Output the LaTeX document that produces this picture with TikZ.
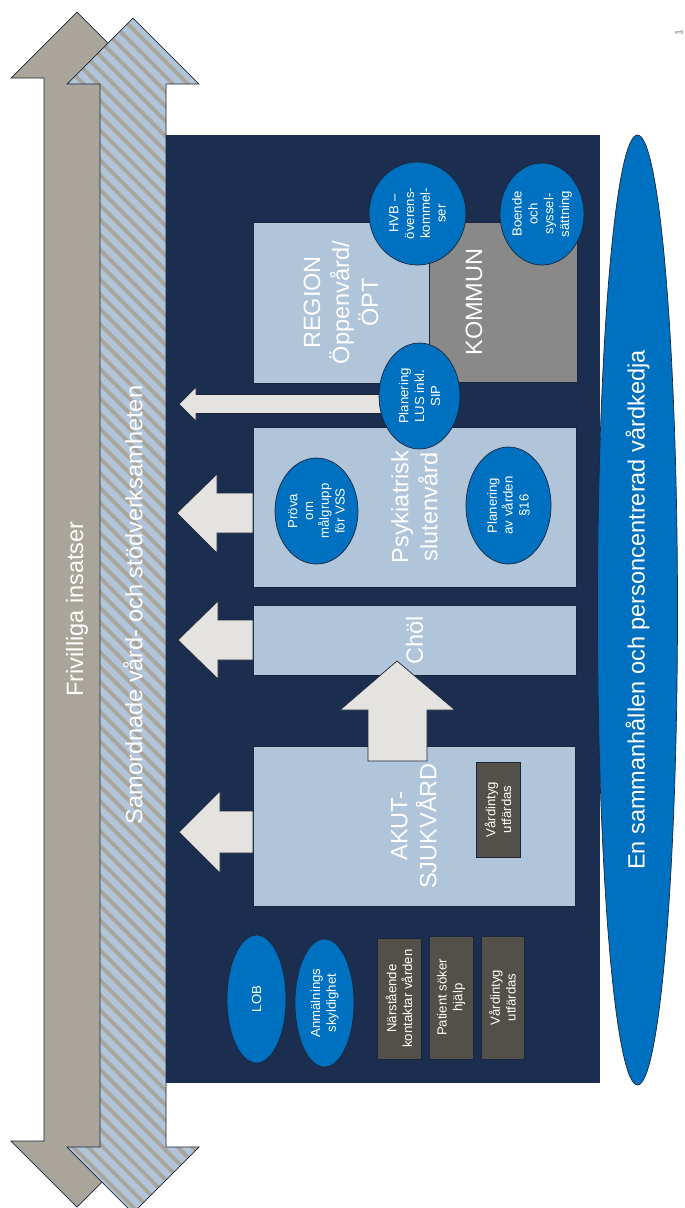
\documentclass[tikz,border=0pt]{standalone}
\usepackage{fontspec}
\setmainfont{Liberation Sans}
\usetikzlibrary{shapes.geometric,patterns.meta}

\definecolor{marin}{RGB}{27,46,79}
\definecolor{ljusbla}{RGB}{176,196,218}
\definecolor{bla}{RGB}{0,112,192}
\definecolor{beige}{RGB}{170,165,155}
\definecolor{gra}{RGB}{136,137,136}
\definecolor{morkgra}{RGB}{83,80,74}
\definecolor{pilgra}{RGB}{228,227,224}
\definecolor{kant}{RGB}{28,38,58}

\tikzset{
  storfont/.style={text=white,font=\fontsize{13.4}{16.5}\selectfont,align=center,inner sep=0pt},
  litenfont/.style={text=white,font=\fontsize{7.5}{9}\selectfont,align=center,inner sep=0pt},
  stor/.style={storfont,rotate=90},
  liten/.style={litenfont,rotate=90},
  ruta/.style 2 args={rectangle,draw=kant,thin,rotate=90,minimum width=#2*0.02cm,minimum height=#1*0.02cm,inner sep=0pt,outer sep=0pt},
  ljusruta/.style 2 args={ruta={#1}{#2},fill=ljusbla,storfont},
  morkruta/.style 2 args={ruta={#1}{#2},fill=morkgra,litenfont},
  cirkel/.style 2 args={ellipse,draw=kant,thin,fill=bla,rotate=90,minimum width=#2*0.02cm,minimum height=#1*0.02cm,inner sep=0pt},
  pil/.style={fill=pilgra,draw=kant,thin},
}

\begin{document}
\begin{tikzpicture}[x=0.02cm,y=-0.02cm]
	\useasboundingbox (0,0) rectangle (685,1208);
	% Dubbelpilar
	\path[fill=beige,draw=kant,thin] (77,12) -- (143,78) -- (110,78) -- (110,1141) -- (143,1141) -- (77,1207) -- (11,1141) -- (44,1141) -- (44,78) -- (11,78) -- cycle;
	\path[preaction={fill=ljusbla},pattern={Lines[angle=-45,distance=6pt,line width=2.2pt]},pattern color=beige,draw=kant,thin]
		(133,18) -- (199,84) -- (166,84) -- (166,1147) -- (199,1147) -- (133,1213) -- (67,1147) -- (100,1147) -- (100,84) -- (67,84) -- cycle;
	\node[stor] (friv) at (77,609) {Frivilliga insatser};
	\node[stor] (samord) at (133,605) {Samordnade vård- och stödverksamheten};
	% Bakgrund
	\fill[marin] (166,135) rectangle (600,1083);
	% Rutor
	\node[ljusruta={176}{161}] (region) at (341,302.5) {REGION\\Öppenvård/\\ÖPT};
	\node[ruta={148}{160},fill=gra] (kommun) at (503,302) {};
	\node[stor] (kommuntxt) at (474,302) {KOMMUN};
	\node[ljusruta={323}{160}] (psyk) at (414.5,507) {Psykiatrisk\\slutenvård};
	\node[ljusruta={323}{70}] (chol) at (414.5,640) {Chöl};
	\node[ljusruta={322}{160}] (akut) at (414,826) {AKUT-\\SJUKVÅRD};
	\node[morkruta={44}{95}] (intyg) at (498,809.5) {Vårdintyg\\utfärdas};
	\node[morkruta={44}{121}] (narst) at (399,998.5) {Närstående\\kontaktar vården};
	\node[morkruta={44}{123}] (patient) at (451,997.5) {Patient söker\\hjälp};
	\node[morkruta={43}{123}] (intyg2) at (502.5,997.5) {Vårdintyg\\utfärdas};
	% Pilar
	\draw[pil] (179,404) -- (196,387) -- (196,394.5) -- (405,394.5) -- (405,413.5) -- (196,413.5) -- (196,421) -- cycle;
	\draw[pil] (177,513) -- (217,474) -- (217,493) -- (253,493) -- (253,533) -- (217,533) -- (217,553) -- cycle;
	\draw[pil] (178,640) -- (218,601) -- (218,620) -- (253,620) -- (253,660) -- (218,660) -- (218,679) -- cycle;
	\draw[pil] (179,832) -- (220,791) -- (220,811) -- (253,811) -- (253,853) -- (220,853) -- (220,873) -- cycle;
	\draw[pil] (397,661) -- (455,710) -- (427,710) -- (427,761) -- (368,761) -- (368,710) -- (340,710) -- cycle;
	% Cirklar
	\node[cirkel={97}{103}] (hvb) at (417.5,213.5) {};
	\node[liten] (hvbtxt) at (hvb) {HVB –\\överens-\\kommel-\\ser};
	\node[cirkel={84}{102}] (boende) at (542,214) {};
	\node[liten] (boendetxt) at (boende) {Boende\\och\\syssel-\\sättning};
	\node[cirkel={81}{106}] (lus) at (419.5,396) {};
	\node[liten] (lustxt) at (lus) {Planering\\LUS inkl.\\SIP};
	\node[cirkel={83}{106}] (prova) at (316.5,511) {};
	\node[liten] (provatxt) at (prova) {Pröva\\om\\målgrupp\\för VSS};
	\node[cirkel={85}{117}] (plan) at (508.5,505.5) {};
	\node[liten] (plantxt) at (plan) {Planering\\av vården\\§16};
	\node[cirkel={59}{128}] (lob) at (256.5,999) {};
	\node[liten] (lobtxt) at (lob) {LOB};
	\node[cirkel={59}{128}] (anm) at (324.5,1003) {};
	\node[liten] (anmtxt) at (anm) {Anmälnings\\skyldighet};
	\node[cirkel={80}{950}] (kedja) at (637.5,610) {};
	\node[stor] (kedjatxt) at (kedja) {En sammanhållen och personcentrerad vårdkedja};
	\node[rotate=90,text=gray,font=\fontsize{6}{7}\selectfont] (sidnr) at (679,33) {1};
\end{tikzpicture}
\end{document}
